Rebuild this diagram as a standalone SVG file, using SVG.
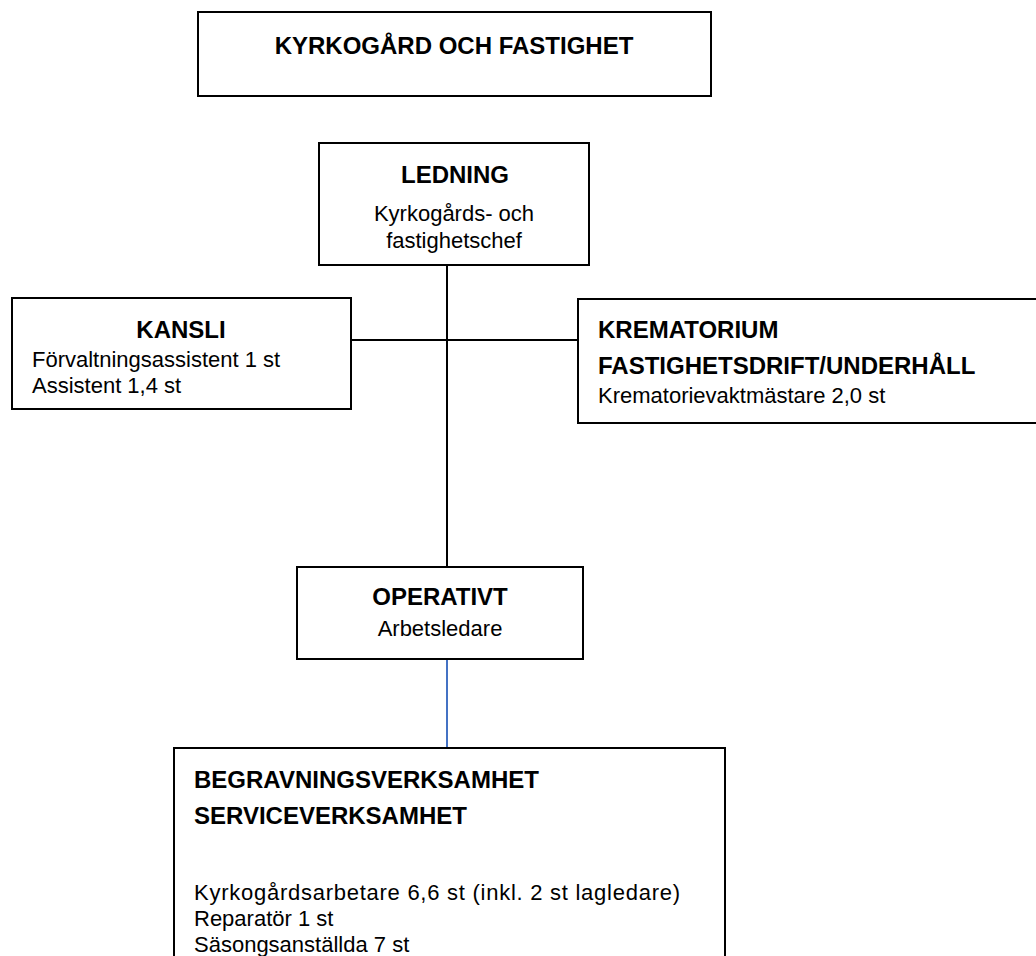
<svg xmlns="http://www.w3.org/2000/svg" width="1036" height="956" viewBox="0 0 1036 956">
<style>
.box{fill:#fff;stroke:#000;stroke-width:2}
.h{font-family:"Liberation Sans",Arial,sans-serif;font-weight:bold;font-size:24px;fill:#000}
.t{font-family:"Liberation Sans",Arial,sans-serif;font-size:22px;fill:#000}
.c{text-anchor:middle}
.ln{stroke:#000;stroke-width:2;fill:none}
.blue{stroke:#4472C4;stroke-width:2;fill:none}
</style>
<rect width="1036" height="956" fill="#fff"/>
<g id="connectors">
<line class="ln" x1="447" y1="265" x2="447" y2="567"/>
<line class="ln" x1="351" y1="340" x2="578" y2="340"/>
<line class="blue" x1="447" y1="659" x2="447" y2="748"/>
</g>
<g id="kyrkogard">
<rect class="box" x="198" y="12" width="513" height="84"/>
<text class="h c" x="454" y="54">KYRKOGÅRD OCH FASTIGHET</text>
</g>
<g id="ledning">
<rect class="box" x="319" y="143" width="270" height="122"/>
<text class="h c" x="455" y="183">LEDNING</text>
<text class="t c" x="454" y="221">Kyrkogårds- och</text>
<text class="t c" x="454" y="248">fastighetschef</text>
</g>
<g id="kansli">
<rect class="box" x="12" y="298" width="339" height="111"/>
<text class="h c" x="181" y="338">KANSLI</text>
<text class="t" x="32" y="367">Förvaltningsassistent 1 st</text>
<text class="t" x="32" y="393">Assistent 1,4 st</text>
</g>
<g id="krematorium">
<rect class="box" x="578" y="299" width="470" height="124"/>
<text class="h" x="598" y="338">KREMATORIUM</text>
<text class="h" x="598" y="374">FASTIGHETSDRIFT/UNDERHÅLL</text>
<text class="t" x="598" y="403">Krematorievaktmästare 2,0 st</text>
</g>
<g id="operativt">
<rect class="box" x="297" y="567" width="286" height="92"/>
<text class="h c" x="440" y="605">OPERATIVT</text>
<text class="t c" x="440" y="636">Arbetsledare</text>
</g>
<g id="begravning">
<rect class="box" x="174" y="748" width="551" height="220"/>
<text class="h" x="194" y="788">BEGRAVNINGSVERKSAMHET</text>
<text class="h" x="194" y="824">SERVICEVERKSAMHET</text>
<text class="t" x="194" y="900" textLength="486" lengthAdjust="spacing">Kyrkogårdsarbetare 6,6 st (inkl. 2 st lagledare)</text>
<text class="t" x="194" y="926">Reparatör 1 st</text>
<text class="t" x="194" y="952">Säsongsanställda 7 st</text>
</g>
</svg>
